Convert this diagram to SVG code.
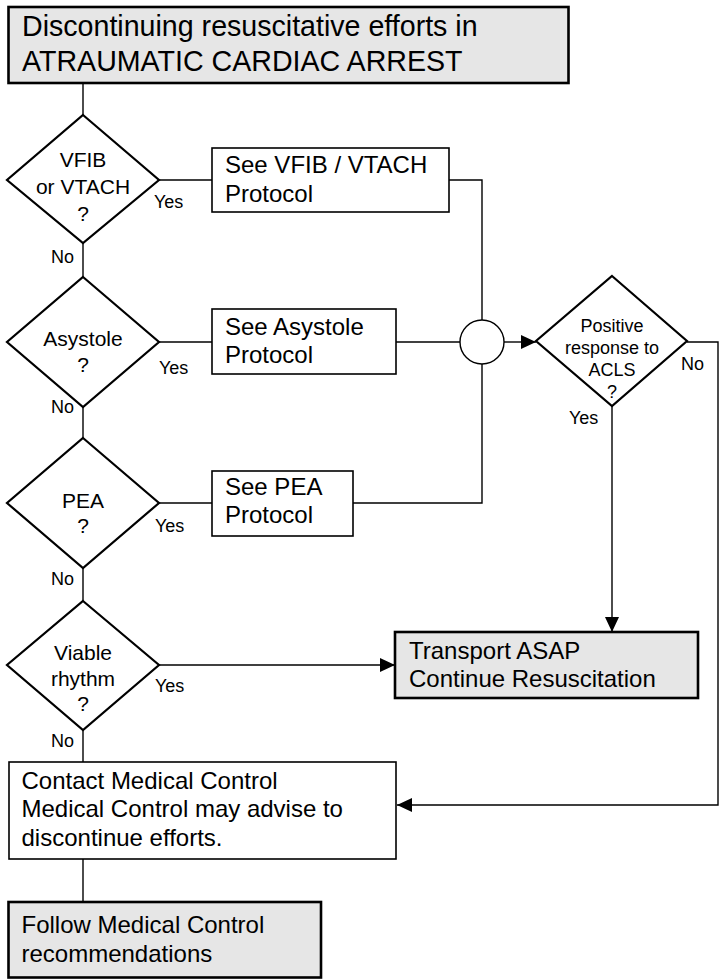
<svg xmlns="http://www.w3.org/2000/svg" width="722" height="979" viewBox="0 0 722 979">
<defs>
<style>
text{font-family:"Liberation Sans",Arial,sans-serif;fill:#000}
.bg{fill:#fff}
.box{fill:#fff;stroke:#000;stroke-width:1.6}
.gbox{fill:#e6e6e6;stroke:#000;stroke-width:2.6}
.dia{fill:#fff;stroke:#000;stroke-width:2.2}
.ln{fill:none;stroke:#000;stroke-width:1.4}
.t28{font-size:28.6px}
.t24{font-size:24px}
.t21{font-size:21px;text-anchor:middle}
.t18c{font-size:18px;text-anchor:middle}
.lbl{font-size:18px}
</style>
<marker id="ah" markerUnits="userSpaceOnUse" markerWidth="15" markerHeight="14" refX="15" refY="7" orient="auto">
<path d="M0,0 L15,7 L0,14 z" fill="#000"/>
</marker>
</defs>
<rect class="bg" x="0" y="0" width="722" height="979"/>
<g id="connectors">
<path class="ln" d="M83,83 V115"/>
<path class="ln" d="M83,243 V277"/>
<path class="ln" d="M83,407 V438"/>
<path class="ln" d="M83,568 V601"/>
<path class="ln" d="M83,730 V762"/>
<path class="ln" d="M83,859 V902"/>
<path class="ln" d="M159,180 H212"/>
<path class="ln" d="M449,180 H482 V320"/>
<path class="ln" d="M159,342 H212"/>
<path class="ln" d="M396,342 H460"/>
<path class="ln" d="M159,503 H212"/>
<path class="ln" d="M353,503 H482 V364"/>
<path class="ln" d="M504,342 H536" marker-end="url(#ah)"/>
<path class="ln" d="M687,342 H718 V805 H397" marker-end="url(#ah)"/>
<path class="ln" d="M612,406 V632" marker-end="url(#ah)"/>
<path class="ln" d="M159,665 H395" marker-end="url(#ah)"/>
<text class="lbl" x="154" y="208">Yes</text>
<text class="lbl" x="51" y="263">No</text>
<text class="lbl" x="159" y="374">Yes</text>
<text class="lbl" x="51" y="413">No</text>
<text class="lbl" x="155" y="532">Yes</text>
<text class="lbl" x="51" y="585">No</text>
<text class="lbl" x="155" y="692">Yes</text>
<text class="lbl" x="51" y="747">No</text>
<text class="lbl" x="681" y="370">No</text>
<text class="lbl" x="569" y="424">Yes</text>
</g>
<g id="title">
<rect class="gbox" x="8.5" y="7" width="560" height="76"/>
<text class="t28" x="22" y="36">Discontinuing resuscitative efforts in</text>
<text class="t28" x="22" y="71">ATRAUMATIC CARDIAC ARREST</text>
</g>
<g id="d-vfib">
<polygon class="dia" points="83,115 159,180 83,243 7,180"/>
<text class="t21" x="83" y="167">VFIB</text>
<text class="t21" x="83" y="194">or VTACH</text>
<text class="t21" x="83" y="221">?</text>
</g>
<g id="b-vfib">
<rect class="box" x="212" y="148" width="237" height="64"/>
<text class="t24" x="225" y="173">See VFIB / VTACH</text>
<text class="t24" x="225" y="202">Protocol</text>
</g>
<g id="d-asystole">
<polygon class="dia" points="83,277 159,342 83,407 7,342"/>
<text class="t21" x="83" y="346">Asystole</text>
<text class="t21" x="83" y="372">?</text>
</g>
<g id="b-asystole">
<rect class="box" x="212" y="309" width="184" height="65"/>
<text class="t24" x="225" y="335">See Asystole</text>
<text class="t24" x="225" y="363">Protocol</text>
</g>
<g id="junction">
<circle class="ln" cx="482" cy="342" r="22" fill="#fff"/>
</g>
<g id="d-acls">
<polygon class="dia" points="612,276 687,341 612,406 536,341"/>
<text class="t18c" x="612" y="332">Positive</text>
<text class="t18c" x="612" y="354">response to</text>
<text class="t18c" x="612" y="376">ACLS</text>
<text class="t18c" x="612" y="398">?</text>
</g>
<g id="d-pea">
<polygon class="dia" points="83,438 159,503 83,568 7,503"/>
<text class="t21" x="83" y="508">PEA</text>
<text class="t21" x="83" y="533">?</text>
</g>
<g id="b-pea">
<rect class="box" x="212" y="471" width="141" height="65"/>
<text class="t24" x="225" y="495">See PEA</text>
<text class="t24" x="225" y="523">Protocol</text>
</g>
<g id="d-viable">
<polygon class="dia" points="83,601 159,665 83,730 7,665"/>
<text class="t21" x="83" y="660">Viable</text>
<text class="t21" x="83" y="686">rhythm</text>
<text class="t21" x="83" y="711">?</text>
</g>
<g id="b-transport">
<rect class="gbox" x="395" y="632" width="303" height="66"/>
<text class="t24" x="409" y="659">Transport ASAP</text>
<text class="t24" x="409" y="687">Continue Resuscitation</text>
</g>
<g id="b-contact">
<rect class="box" x="9" y="762" width="387" height="97"/>
<text class="t24" x="21.5" y="789">Contact Medical Control</text>
<text class="t24" x="21.5" y="817">Medical Control may advise to</text>
<text class="t24" x="21.5" y="846">discontinue efforts.</text>
</g>
<g id="b-follow">
<rect class="gbox" x="8.5" y="902" width="312.5" height="75.5"/>
<text class="t24" x="21.5" y="933">Follow Medical Control</text>
<text class="t24" x="21.5" y="962">recommendations</text>
</g>
</svg>
